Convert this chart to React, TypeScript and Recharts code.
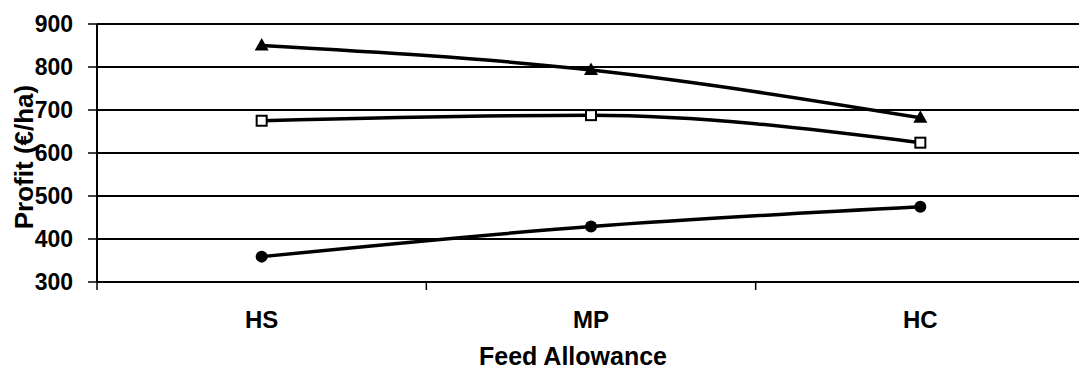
import { LineChart, Line, XAxis, YAxis, CartesianGrid, Label } from "recharts";

// Feed allowance groups and profit per group for each of the three systems
const categories = ["HS", "MP", "HC"];
const triangleProfit = [850, 793, 682];
const squareProfit = [675, 688, 624];
const circleProfit = [359, 429, 475];
const yTicks = [300, 400, 500, 600, 700, 800, 900];

// categories sit in the middle of each band, tick marks sit on band edges
const data = categories.map((name, i) => ({
  x: i + 0.5,
  name,
  triangle: triangleProfit[i],
  square: squareProfit[i],
  circle: circleProfit[i],
}));
const xTicks = [0, 0.5, 1, 1.5, 2, 2.5, 3];

const FONT = "'Liberation Sans', Arial, sans-serif";

const XTick = (props: any) => {
  const { x, y, payload } = props;
  const v = payload.value as number;
  if (Number.isInteger(v)) {
    return <line x1={x} x2={x} y1={y} y2={y + 8} stroke="#000" strokeWidth={1.5} />;
  }
  return (
    <text x={x} y={y + 37} textAnchor="middle" dominantBaseline="central" fontFamily={FONT} fontWeight="bold" fontSize={24} fill="#000">
      {categories[Math.floor(v)]}
    </text>
  );
};

const Triangle = (props: any) => {
  const { cx, cy } = props;
  if (cx == null || cy == null) return null;
  return <polygon points={`${cx},${cy - 7.5} ${cx + 7},${cy + 5} ${cx - 7},${cy + 5}`} fill="#000" />;
};

const Square = (props: any) => {
  const { cx, cy } = props;
  if (cx == null || cy == null) return null;
  return <rect x={cx - 5} y={cy - 5} width={10} height={10} fill="#fff" stroke="#000" strokeWidth={2} />;
};

const Circle = (props: any) => {
  const { cx, cy } = props;
  if (cx == null || cy == null) return null;
  return <circle cx={cx} cy={cy} r={6} fill="#000" />;
};

export default function App() {
  return (
    <div style={{ position: "absolute", left: 0, top: 0, width: 1079, height: 370, overflow: "hidden", background: "#fff" }}>
      <LineChart width={1085} height={370} data={data} margin={{ top: 24, right: 0, left: 0, bottom: 0 }}>
        <CartesianGrid vertical={false} stroke="#000" strokeWidth={2} />
        <XAxis
          dataKey="x"
          type="number"
          domain={[0, 3]}
          ticks={xTicks}
          interval={0}
          tickLine={false}
          tickSize={0}
          tickMargin={0}
          axisLine={{ stroke: "#000", strokeWidth: 2 }}
          tick={<XTick />}
          height={88}
        >
          <Label
            value="Feed Allowance"
            position="insideBottom"
            offset={5}
            dx={-18}
            style={{ fontFamily: FONT, fontWeight: "bold", fontSize: 25, fill: "#000" }}
          />
        </XAxis>
        <YAxis
          type="number"
          domain={[300, 900]}
          ticks={yTicks}
          interval={0}
          width={97}
          tickSize={9}
          tickMargin={15}
          axisLine={{ stroke: "#000", strokeWidth: 2 }}
          tickLine={{ stroke: "#000", strokeWidth: 1.5 }}
          tick={{ fontFamily: FONT, fontWeight: "bold", fontSize: 23, fill: "#000" }}
        >
          <Label
            value="Profit (€/ha)"
            angle={-90}
            position="insideLeft"
            offset={24}
            dy={4}
            style={{ textAnchor: "middle", fontFamily: FONT, fontWeight: "bold", fontSize: 26, fill: "#000" }}
          />
        </YAxis>
        <Line type="monotone" dataKey="triangle" stroke="#000" strokeWidth={3.5} dot={<Triangle />} activeDot={false} isAnimationActive={false} />
        <Line type="monotone" dataKey="square" stroke="#000" strokeWidth={3.5} dot={<Square />} activeDot={false} isAnimationActive={false} />
        <Line type="monotone" dataKey="circle" stroke="#000" strokeWidth={3.5} dot={<Circle />} activeDot={false} isAnimationActive={false} />
      </LineChart>
    </div>
  );
}
